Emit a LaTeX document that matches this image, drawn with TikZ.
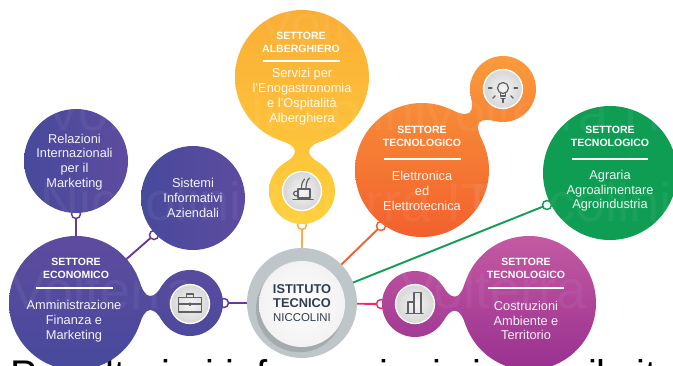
\documentclass[tikz,border=0pt]{standalone}
\usepackage{fontspec}
\setmainfont{Liberation Sans}
\usetikzlibrary{calc}
\newcommand\hdfont{\fontsize{10.5}{12.8}\selectfont\bfseries}
\newcommand\bdfont{\fontsize{12.8}{14.7}\selectfont}
\newcommand\wmfont{\fontsize{54}{54}\selectfont}
% piece of a blob: neck between circle R at (x1,y1) and circle r at (x2,y2)
\newcommand\neckclip[6]{%
  \pgfmathsetmacro\nkang{atan2(-(#5-#2),#4-#1)}%
  \pgfmathsetmacro\nkd{veclen(#4-#1,#5-#2)}%
  \pgfmathsetmacro\nkax{#3*cos(19)}\pgfmathsetmacro\nkay{#3*sin(19)}%
  \pgfmathsetmacro\nkbx{\nkd-#6*cos(32)}\pgfmathsetmacro\nkby{#6*sin(32)}%
  \pgfmathsetmacro\nkw{#3+(\nkd-#3-#6)/2}%
  \pgfmathsetmacro\nkcax{\nkax+7*sin(19)}\pgfmathsetmacro\nkcay{\nkay-7*cos(19)}%
  \pgfmathsetmacro\nkcbx{\nkbx-7*sin(32)}\pgfmathsetmacro\nkcby{\nkby-7*cos(32)}%
  \pgfmathsetmacro\nkwa{\nkw-5}\pgfmathsetmacro\nkwb{\nkw+5}%
  \clip[shift={(#1,#2)},rotate=\nkang]
    (0,0) -- (\nkax,\nkay)
    .. controls (\nkcax,\nkcay) and (\nkwa,7) .. (\nkw,7)
    .. controls (\nkwb,7) and (\nkcbx,\nkcby) .. (\nkbx,\nkby)
    -- (\nkd,0) -- (\nkbx,-\nkby)
    .. controls (\nkcbx,-\nkcby) and (\nkwb,-7) .. (\nkw,-7)
    .. controls (\nkwa,-7) and (\nkcax,-\nkcay) .. (\nkax,-\nkay)
    -- cycle;}
% #1 clip command, #2 top colour, #3 bottom colour, #4 top y, #5 bottom y
\newcommand\gradpiece[5]{\begin{scope}#1\shade[top color=#2,bottom color=#3] (0,#4) rectangle (673,#5);\end{scope}}
\newcommand\blobtwo[9]{%
  \gradpiece{\clip (#1,#2) circle (#3);}{#7}{#8}{#9}{\blobymax}%
  \gradpiece{\clip (#4,#5) circle (#6);}{#7}{#8}{#9}{\blobymax}%
  \gradpiece{\neckclip{#1}{#2}{#3}{#4}{#5}{#6}}{#7}{#8}{#9}{\blobymax}}
\tikzset{
  anchorpt/.style={circle,inner sep=0pt,minimum size=#1},
  conn/.style={line width=1.9pt},
  ringnode/.style={circle,draw=#1,fill=white,line width=1.5pt,minimum size=9pt,inner sep=0pt},
  hd/.style={text=white,align=center,font=\hdfont,inner sep=0pt},
  bd/.style={text=white,align=center,font=\bdfont,inner sep=0pt,text opacity=.93},
  bar/.style={white,line width=2.3pt},
  btn/.style={circle,draw=white,line width=1.3pt,minimum size=39pt,inner sep=0pt,
     inner color=white!92!gray,outer color=gray!32!white},
  ico/.style={draw=icongray,line width=1.2pt,line cap=round,line join=round},
  wm/.style={text=white,text opacity=.05,font=\wmfont,anchor=base west,inner sep=0pt},
}
\definecolor{icongray}{HTML}{5F6163}
\definecolor{purpA}{HTML}{5E4B9F}
\definecolor{purpB}{HTML}{474A9C}
\definecolor{purpL}{HTML}{653A9B}
\definecolor{yelA}{HTML}{FAAE36}
\definecolor{yelB}{HTML}{FFD03C}
\definecolor{yelL}{HTML}{F8AE4A}
\definecolor{orA}{HTML}{F99B3B}
\definecolor{orB}{HTML}{F2602D}
\definecolor{grn}{HTML}{0F9D54}
\definecolor{magA}{HTML}{C45AA2}
\definecolor{magB}{HTML}{983090}
\definecolor{magL}{HTML}{E6306E}
\definecolor{disc}{HTML}{BFC6CA}
\definecolor{ink}{HTML}{2F3E4E}
\begin{document}
\begin{tikzpicture}[x=1pt,y=-1pt]
\useasboundingbox (0,0) rectangle (673,365);
\clip (0,0) rectangle (673,365);
\fill[white] (0,0) rectangle (673,365);
% cut-off line of text at the bottom edge
\node[anchor=base west,inner sep=0pt,font=\fontsize{40}{40}\selectfont,text=black] (bottomline) at (10,388) {Per ulteriori informazioni visitate il sito};
% anchors
\node[anchorpt=134pt] (eco) at (76,303) {};
\node[anchorpt=104pt] (rel) at (76,161) {};
\node[anchorpt=104pt] (sis) at (193,198) {};
\node[anchorpt=66pt] (bag) at (190,303) {};
\node[anchorpt=110pt] (ist) at (302,303) {};
\node[anchorpt=134pt] (alb) at (302,77) {};
\node[anchorpt=66pt] (cup) at (302,191) {};
\node[anchorpt=134pt] (ele) at (422,170) {};
\node[anchorpt=66pt] (blb) at (503,89) {};
\node[anchorpt=134pt] (agr) at (610,173) {};
\node[anchorpt=134pt] (cos) at (529,303) {};
\node[anchorpt=66pt] (bld) at (415,304) {};
\coordinate (r1) at (76,214);
\coordinate (r2) at (154,235);
\coordinate (r3) at (224,303);
\coordinate (r4) at (302,225);
\coordinate (r5) at (381,226);
\coordinate (r6) at (547,205);
\coordinate (r7) at (381,304);
% connectors
\draw[conn,purpL] (r1) -- (eco.center);
\draw[conn,purpL] (r2) -- (eco.center);
\draw[conn,purpL] (r3) -- (ist.center);
\draw[conn,yelL] (r4) -- (ist.center);
\draw[conn,orB] (r5) -- (ist.center);
\draw[conn,grn] (r6) -- (ist.center);
\draw[conn,magL] (r7) -- (ist.center);
% rings, half hidden by the circles drawn after them
\node[ringnode=purpL] (ring1) at (r1) {};
\node[ringnode=purpL] (ring2) at (r2) {};
\node[ringnode=purpL] (ring3) at (r3) {};
\node[ringnode=yelL] (ring4) at (r4) {};
\node[ringnode=orB] (ring5) at (r5) {};
\node[ringnode=grn] (ring6) at (r6) {};
\node[ringnode=magL] (ring7) at (r7) {};
% blobs
\shade[left color=purpB,right color=purpA] (rel.center) circle (52);
\shade[left color=purpB,right color=purpA] (sis.center) circle (52);
\def\blobymax{370}
\blobtwo{76}{303}{67}{190}{303}{33}{purpA}{purpB}{236}
\def\blobymax{225}
\blobtwo{302}{77}{67}{302}{191}{33}{yelA}{yelB}{10}
\def\blobymax{238}
\blobtwo{422}{170}{67}{503}{89}{33}{orA}{orB}{56}
\fill[grn] (agr.center) circle (67);
\def\blobymax{371}
\blobtwo{529}{303}{67}{415}{304}{33}{magA}{magB}{236}
% watermark
\node[wm] (wa) at (258,43) {Volterra};
\node[wm] (wb) at (45,130) {Volterra};
\node[wm] (wc) at (225,130) {Niccolini};
\node[wm] (wd) at (422,131) {Volterra IT};
\node[wm] (we) at (40,220) {Niccolini};
\node[wm] (wf) at (245,221) {Volterra IT};
\node[wm] (wg) at (470,221) {Niccolini};
\node[wm] (wh) at (10,309) {Volterra};
\node[wm] (wi) at (400,308) {Volterra};
% central disc
\fill[disc] (ist.center) circle (55);
\fill[black,opacity=.07] (300,308) circle (44);
\fill[black,opacity=.07] (299,309.5) circle (43);
\shade[inner color=white,outer color=white!90!gray] (302,304) circle (43);
\node[font=\fontsize{12.8}{14.6}\selectfont\bfseries,text=ink,align=center,inner sep=0pt] (ist1) at (302,296) {ISTITUTO\\TECNICO};
\node[font=\fontsize{11.4}{13}\selectfont,text=ink,inner sep=0pt] (ist2) at (302,318) {NICCOLINI};
% icon buttons
\node[btn] (btnbag) at (190,304) {};
\node[btn] (btncup) at (302,191) {};
\node[btn] (btnblb) at (503,89) {};
\node[btn] (btnbld) at (415,304) {};
% briefcase
\draw[ico] (178.5,297.5) rectangle (201.5,312);
\draw[ico] (178.5,304) -- (201.5,304);
\draw[ico] (186.5,297.5) -- (186.5,294) -- (193.5,294) -- (193.5,297.5);
\draw[ico] (190,303) -- (190,305.5);
% cup
\draw[ico] (298,189) rectangle (310,198);
\draw[ico] (293,199.5) -- (313,199.5);
\draw[ico] (298,191) .. controls (292,190) and (292,197) .. (298,196);
\draw[ico] (301.5,188) .. controls (301.5,184) and (302.5,181) .. (304.5,179);
\draw[ico] (306,188) .. controls (306,184) and (307,180) .. (309.5,178);
% bulb
\draw[ico] (503,88) circle (5.5);
\draw[ico] (500.5,93) -- (500.5,96) -- (505.5,96) -- (505.5,93);
\draw[ico] (501,98.5) -- (505,98.5);
\foreach \a in {0,45,90,135,180} \draw[ico] ($(503,88)+(\a:11)$) -- ($(503,88)+(\a:14.5)$);
% buildings
\draw[ico] (406,313.5) -- (423,313.5);
\draw[ico] (414,313.5) -- (414,292.5) -- (421,292.5) -- (421,313.5);
\draw[ico] (408,313.5) -- (408,302) -- (414,302);
% labels
\node[bd] (t1) at (74.5,162) {Relazioni\\Internazionali\\per il\\Marketing};
\node[bd] (t2) at (193,198) {Sistemi\\Informativi\\Aziendali};
\node[hd] (t3) at (76,268.5) {SETTORE\\ECONOMICO};
\draw[bar] (36,288) -- (113,288);
\node[bd] (t4) at (74,321) {Amministrazione\\Finanza e\\Marketing};
\node[hd] (t5) at (301,42) {SETTORE\\ALBERGHIERO};
\draw[bar] (263,61.3) -- (339.5,61.3);
\node[bd] (t6) at (302,96.7) {Servizi per\\l'Enogastronomia\\e l'Ospitalità\\Alberghiera};
\node[hd] (t7) at (422,136.5) {SETTORE\\TECNOLOGICO};
\draw[bar] (384,159) -- (461,159);
\node[bd] (t8) at (422,191) {Elettronica\\ed\\Elettrotecnica};
\node[hd] (t9) at (610,136.5) {SETTORE\\TECNOLOGICO};
\draw[bar] (571.5,159) -- (648,159);
\node[bd] (t10) at (610,190.7) {Agraria\\Agroalimentare\\Agroindustria};
\node[hd] (t11) at (526,268.5) {SETTORE\\TECNOLOGICO};
\draw[bar] (487.5,288) -- (564,288);
\node[bd] (t12) at (526,320.5) {Costruzioni\\Ambiente e\\Territorio};
\end{tikzpicture}
\end{document}
